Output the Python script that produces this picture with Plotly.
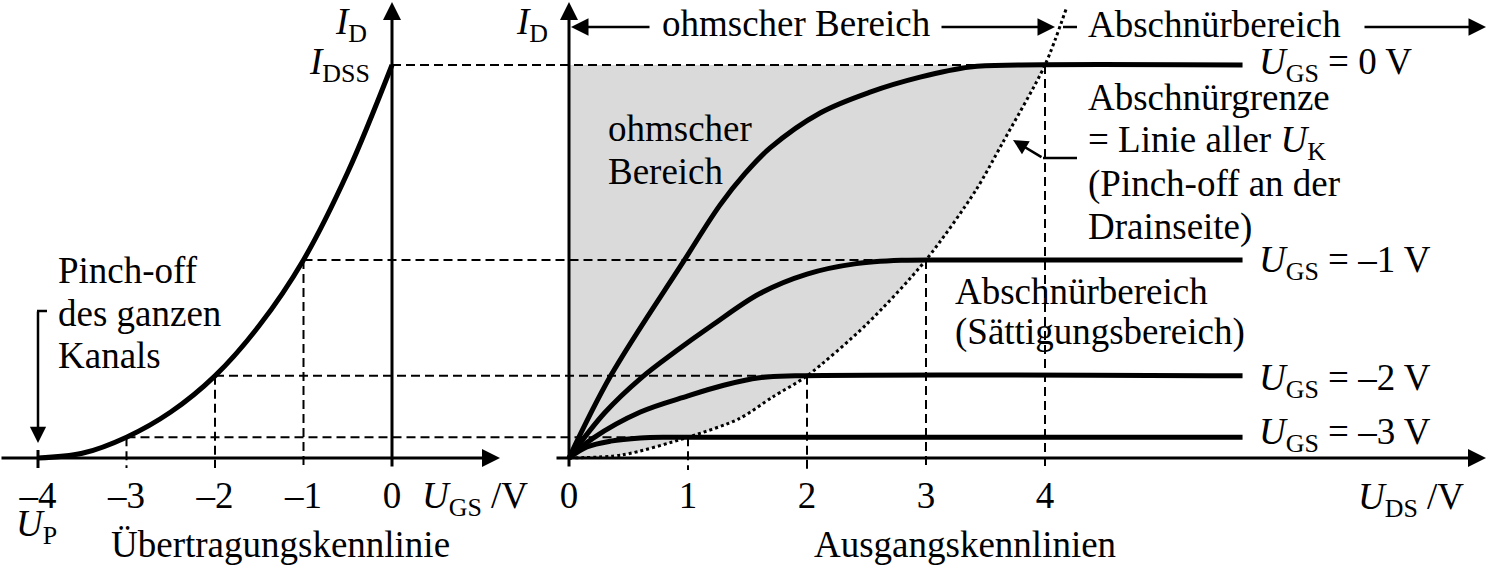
import plotly.graph_objects as go

# ---------------- data (relative drain current, I_DSS = 1) ----------------
UGS_TRANSFER = [-4.0, -3.5, -3.0, -2.5, -2.0, -1.5, -1.0, -0.5, 0.0]
ID_TRANSFER = [0.0, 0.012, 0.053, 0.117, 0.209, 0.337, 0.504, 0.727, 1.0]

UGS_STEPS = [0, -1, -2, -3]           # gate voltages of the output curves
ID_SAT = [1.0, 0.504, 0.209, 0.053]   # saturation currents
UDS_KNEE = [4, 3, 2, 1]               # knee voltages U_K

UDS_0 = [0, 0.35, 0.96, 1.27, 1.48, 1.69, 2.11, 2.53, 2.95, 3.37, 3.8, 5.66]
ID_0 = [0, 0.209, 0.499, 0.644, 0.724, 0.789, 0.878, 0.931, 0.969, 0.995, 1.0, 1.0]
UDS_M1 = [0, 0.3, 0.6, 0.9, 1.2, 1.6, 2.0, 2.4, 2.8, 3.2, 5.66]
ID_M1 = [0, 0.115, 0.202, 0.272, 0.337, 0.418, 0.468, 0.494, 0.503, 0.504, 0.504]
UDS_M2 = [0, 0.2, 0.6, 1.0, 1.3, 1.6, 1.9, 5.66]
ID_M2 = [0, 0.05, 0.117, 0.158, 0.185, 0.204, 0.209, 0.209]
UDS_M3 = [0, 0.15, 0.35, 0.6, 0.85, 5.66]
ID_M3 = [0, 0.028, 0.043, 0.051, 0.053, 0.053]

UDS_PINCH = [0, 0.45, 1.0, 1.43, 1.71, 2.0, 2.5, 3.0, 3.42, 3.64, 4.0, 4.18]
ID_PINCH = [0, 0.008, 0.053, 0.10, 0.155, 0.209, 0.34, 0.504, 0.682, 0.80, 1.0, 1.145]

UGS_TICKS = [-4, -3, -2, -1, 0]
UGS_TICKTEXT = ["–4", "–3", "–2", "–1", "0"]
UDS_TICKS = [0, 1, 2, 3, 4]
UDS_TICKTEXT = ["0", "1", "2", "3", "4"]

# ---------------- geometry ----------------
W, H = 1488, 571
LX0, LS = 392.0, 88.5      # left panel: pixel of U_GS=0, px per volt
RX0, RS = 569.0, 119.0     # right panel: pixel of U_DS=0, px per volt
Y0, YS = 458.0, 393.0      # pixel of I=0, px per I_DSS

FONT = "Liberation Serif, Times New Roman, serif"
FS = 37
BLACK = "black"
LW = 5

xl_range = [-LX0 / LS, (W - LX0) / LS]
xr_range = [-RX0 / RS, (W - RX0) / RS]
y_range = [(Y0 - H) / YS, Y0 / YS]


def l2r(u):
    """convert left-panel U_GS value to right-panel x coordinate"""
    return (LX0 + LS * u - RX0) / RS


def yv(py):
    return (Y0 - py) / YS


def xl(px):
    return (px - LX0) / LS


def xr(px):
    return (px - RX0) / RS


fig = go.Figure()

# shaded ohmic region: between pinch-off boundary and I_DSS
fill_n = UDS_PINCH.index(4.0) + 1
fig.add_trace(go.Scatter(x=[0, UDS_KNEE[0]], y=[ID_SAT[0], ID_SAT[0]], xaxis="x2", yaxis="y",
                         mode="lines", line=dict(width=0, color="rgba(0,0,0,0)"), hoverinfo="skip"))
fig.add_trace(go.Scatter(x=UDS_PINCH[:fill_n], y=ID_PINCH[:fill_n], xaxis="x2", yaxis="y",
                         mode="lines", fill="tonexty", fillcolor="#dadada",
                         line=dict(width=0, color="rgba(0,0,0,0)", shape="spline", smoothing=0.8),
                         hoverinfo="skip"))

dash = dict(color=BLACK, width=2, dash="9px,5px")
# dashed construction lines from transfer curve to knee points
for ugs, isat, uk in zip(UGS_STEPS, ID_SAT, UDS_KNEE):
    fig.add_trace(go.Scatter(x=[l2r(ugs), uk], y=[isat, isat], xaxis="x2", yaxis="y",
                             mode="lines", line=dash, hoverinfo="skip"))
    fig.add_trace(go.Scatter(x=[uk, uk], y=[isat, yv(470)], xaxis="x2", yaxis="y",
                             mode="lines", line=dash, hoverinfo="skip"))
    if ugs != 0:
        fig.add_trace(go.Scatter(x=[ugs, ugs], y=[isat, yv(468)], xaxis="x", yaxis="y",
                                 mode="lines", line=dash, hoverinfo="skip"))

# transfer characteristic
fig.add_trace(go.Scatter(x=UGS_TRANSFER, y=ID_TRANSFER, xaxis="x", yaxis="y", mode="lines",
                         line=dict(color=BLACK, width=LW, shape="spline", smoothing=1.0),
                         hoverinfo="skip"))

# output characteristics
for xs, ys in [(UDS_0, ID_0), (UDS_M1, ID_M1), (UDS_M2, ID_M2), (UDS_M3, ID_M3)]:
    fig.add_trace(go.Scatter(x=xs, y=ys, xaxis="x2", yaxis="y", mode="lines",
                             line=dict(color=BLACK, width=LW, shape="spline", smoothing=1.0),
                             hoverinfo="skip"))

# pinch-off boundary (dotted)
fig.add_trace(go.Scatter(x=UDS_PINCH, y=ID_PINCH, xaxis="x2", yaxis="y", mode="lines",
                         line=dict(color=BLACK, width=3, dash="dot", shape="spline", smoothing=0.8),
                         hoverinfo="skip"))

annotations = []


def axis_arrow(xref, x_tip, y_tip, x_tail, y_tail, width=3, size=1.2):
    annotations.append(dict(x=x_tip, y=y_tip, ax=x_tail, ay=y_tail, xref=xref, yref="y",
                            axref=xref, ayref="y", showarrow=True, arrowhead=2,
                            arrowsize=size, arrowwidth=width, arrowcolor=BLACK,
                            text="", standoff=0, startstandoff=0))


def px_arrow(tip, tail, width=2.5, size=1.4):
    annotations.append(dict(x=tip[0] / W, y=1 - tip[1] / H, xref="paper", yref="paper",
                            ax=tail[0] - tip[0], ay=tail[1] - tip[1], showarrow=True,
                            arrowhead=2, arrowsize=size, arrowwidth=width, arrowcolor=BLACK,
                            text="", standoff=0, startstandoff=0))


# axes with arrows
axis_arrow("x", xl(500), 0, xl_range[0], 0)
axis_arrow("x", 0, yv(2), 0, yv(468))
axis_arrow("x2", xr(1486), 0, xr(555), 0)
axis_arrow("x2", 0, yv(2), 0, yv(468))

# region arrows at the top
px_arrow((571, 27), (651, 27))
px_arrow((1055, 27), (940, 27))
px_arrow((1486, 27), (1363, 27))
# pinch-off arrow (left)
px_arrow((38, 443), (38, 310), width=2.5, size=1.3)
# pointer to the pinch-off boundary
px_arrow((1013, 140), (1043, 158), width=2.5, size=1.2)

shapes = [
    dict(type="line", xref="paper", yref="paper", x0=1063 / W, x1=1077 / W,
         y0=1 - 27 / H, y1=1 - 27 / H, line=dict(color=BLACK, width=2.5)),
    dict(type="line", xref="paper", yref="paper", x0=1043 / W, x1=1077 / W,
         y0=1 - 158 / H, y1=1 - 158 / H, line=dict(color=BLACK, width=2.5)),
    dict(type="line", xref="paper", yref="paper", x0=37 / W, x1=47 / W,
         y0=1 - 311 / H, y1=1 - 311 / H, line=dict(color=BLACK, width=2.5)),
    dict(type="line", xref="x", yref="y", x0=-4, x1=-4, y0=yv(450), y1=yv(468),
         line=dict(color=BLACK, width=3)),
]


def label(text, x_px, base_px, anchor="left"):
    corr = 4 if "<sub>" in text else 1
    annotations.append(dict(text=text, x=x_px / W, y=1 - (base_px - 12.5 + corr) / H,
                            xref="paper", yref="paper", xanchor=anchor, yanchor="middle",
                            showarrow=False, borderpad=0,
                            font=dict(family=FONT, size=FS, color=BLACK)))


UG = "<i>U</i><sub>GS</sub>"
label("<i>I</i><sub>D</sub>", 368, 33, "right")
label("<i>I</i><sub>DSS</sub>", 371, 73, "right")
label(UG + " /V", 421, 507)
label("<i>U</i><sub>P</sub>", 36, 535, "center")
label("Übertragungskennlinie", 110, 556)
label("Pinch-off", 57, 282)
label("des ganzen", 57, 325)
label("Kanals", 57, 367)

label("<i>I</i><sub>D</sub>", 549, 33, "right")
label("ohmscher Bereich", 661, 35)
label("Abschnürbereich", 1087, 36)
label("Abschnürgrenze", 1087, 109)
label("= Linie aller <i>U</i><sub>K</sub>", 1087, 151)
label("(Pinch-off an der", 1087, 195)
label("Drainseite)", 1087, 238)
label("Abschnürbereich", 954, 303)
label("(Sättigungsbereich)", 954, 343)
label("ohmscher", 607, 140)
label("Bereich", 607, 183)
label("<i>U</i><sub>DS</sub> /V", 1357, 508)
label("Ausgangskennlinien", 813, 556)

for ugs, base in zip(UGS_STEPS, [73, 271, 389, 443]):
    txt = UG + " = " + ("0" if ugs == 0 else "–" + str(-ugs)) + " V"
    label(txt, 1258, base)

axis_common = dict(showgrid=False, zeroline=False, showline=False, ticks="",
                   tickfont=dict(family=FONT, size=FS, color=BLACK),
                   anchor="free", position=1 - Y0 / H, domain=[0, 1], fixedrange=True)

fig.update_layout(
    width=W, height=H, margin=dict(l=0, r=0, t=0, b=0),
    paper_bgcolor="white", plot_bgcolor="white", showlegend=False,
    xaxis=dict(range=xl_range, tickvals=UGS_TICKS, ticktext=UGS_TICKTEXT,
               ticklabelstandoff=12, **axis_common),
    xaxis2=dict(range=xr_range, tickvals=UDS_TICKS, ticktext=UDS_TICKTEXT,
                overlaying="x", ticklabelstandoff=12, **axis_common),
    yaxis=dict(range=y_range, visible=False, domain=[0, 1], fixedrange=True),
    annotations=annotations, shapes=shapes,
)

fig.write_html("out.html", config={"displayModeBar": False},
               post_script="document.body.style.margin='0px';")
